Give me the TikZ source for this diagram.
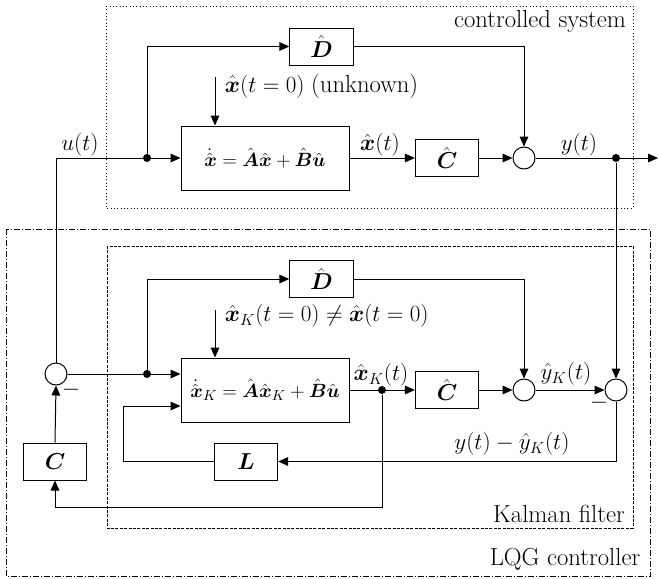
\documentclass[tikz,border=0pt]{standalone}
\usepackage{amsmath}
\usetikzlibrary{arrows.meta}

\tikzset{every picture/.style={line width=0.75pt}}

\begin{document}
\begin{tikzpicture}[x=0.75pt,y=0.75pt,yscale=-1,xscale=1,
  >={Triangle[length=7.5pt,width=6.5pt]},
  every node/.append style={font=\fontsize{16.5}{20}\selectfont},
  txt/.style={font=\fontsize{18.5}{22}\selectfont},
  blk/.style={draw,fill=white,inner sep=0pt,minimum width=47.5pt,minimum height=27.75pt},
  sysblk/.style={draw,inner sep=0pt,minimum width=126pt,minimum height=48pt,font=\fontsize{15.5}{18}\selectfont},
  sumpt/.style={draw,circle,fill=white,inner sep=0pt,minimum size=16.5pt},
  junc/.style={fill,circle,inner sep=0pt,minimum size=6pt}]
	\useasboundingbox (0,0) rectangle (659,578);

	%Frames
	\draw [dash pattern={on 0.75pt off 1.75pt}] (106,6) rectangle (633,208);
	\draw [dash pattern={on 4.5pt off 1.5pt on 0.75pt off 1.5pt}] (6,229) rectangle (650,576.5);
	\draw [dash pattern={on 2.2pt off 1.1pt}] (107,246) rectangle (633,528);

	%Shapes: controlled system
	\node [blk] (Dsys) at (321.5,46.5) {$\hat{\boldsymbol{D}}$};
	\node [sysblk] (plant) at (265,158) {$\dot{\hat{\boldsymbol{x}}} = \hat{\boldsymbol{A}}\hat{\boldsymbol{x}} + \hat{\boldsymbol{B}}\hat{\boldsymbol{u}}$};
	\node [blk] (Csys) at (447,158) {$\hat{\boldsymbol{C}}$};
	\node [sumpt] (sumY) at (524,158) {};
	\node [junc] (uDot) at (147,158) {};
	\node [junc] (yDot) at (616,158) {};
	\coordinate (yOut) at (658,158);
	\coordinate (x0In) at (215,77);

	%Shapes: LQG controller
	\node [sumpt] (sumU) at (56,374) {};
	\node [junc] (kDot) at (147,374) {};
	\node [blk] (DK) at (321.5,279) {$\hat{\boldsymbol{D}}$};
	\node [sysblk] (filt) at (265,390) {$\dot{\hat{\boldsymbol{x}}}_K = \hat{\boldsymbol{A}}\hat{\boldsymbol{x}}_K + \hat{\boldsymbol{B}}\hat{\boldsymbol{u}}$};
	\node [junc] (xDot) at (382,390) {};
	\node [blk] (CK) at (447,390) {$\hat{\boldsymbol{C}}$};
	\node [sumpt] (sumK) at (524,390) {};
	\node [sumpt] (sumE) at (616,390) {};
	\node [blk] (Lgain) at (246,461.5) {$\boldsymbol{L}$};
	\node [blk] (Cgain) at (55,461.5) {$\boldsymbol{C}$};
	\coordinate (x0KIn) at (215,310);
	\coordinate (fbL) at (123,406);

	%Straight Lines: controlled system
	\draw [->] (sumU.north) |- (plant.west);
	\draw [->] (uDot) |- (Dsys.west);
	\draw [->] (Dsys.east) -| (sumY.north);
	\draw [->] (x0In) -- (x0In |- plant.north);
	\draw [->] (plant.east) -- (Csys.west);
	\draw [->] (Csys.east) -- (sumY.west);
	\draw [->] (sumY.east) -- (yOut);
	\draw [->] (yDot) -- (sumE.north);

	%Straight Lines: LQG controller
	\draw [->] (sumU.east) -- (filt.west |- sumU);
	\draw [->] (kDot) |- (DK.west);
	\draw [->] (DK.east) -| (sumK.north);
	\draw [->] (x0KIn) -- (x0KIn |- filt.north);
	\draw [->] (filt.east) -- (CK.west);
	\draw [->] (CK.east) -- (sumK.west);
	\draw [->] (sumK.east) -- (sumE.west);
	\draw [->] (sumE.south) |- (Lgain.east);
	\draw [->] (Lgain.west) -| (fbL) -- (filt.west |- fbL);
	\draw [->] (xDot) -- ++(0,117) -| (Cgain.south);
	\draw [->] (Cgain.north) -- (sumU.south);

	% Text Node
	\node [txt] (sysLbl) at (540,21) {controlled system};
	\node [anchor=west] (x0Lbl) at (220,86) {$\hat{\boldsymbol{x}}(t=0)$ {\fontsize{18.5}{22}\selectfont (unknown)}};
	\node (uLbl) at (80,145) {$u(t)$};
	\node (xLbl) at (380,145) {$\hat{\boldsymbol{x}}(t)$};
	\node (yLbl) at (579,145) {$y(t)$};
	\node [anchor=west] (x0KLbl) at (220,316) {$\hat{\boldsymbol{x}}_K(t=0) \neq \hat{\boldsymbol{x}}(t=0)$};
	\node (xKLbl) at (381,375) {$\hat{\boldsymbol{x}}_K(t)$};
	\node (yKLbl) at (566,374) {$\hat{y}_K(t)$};
	\node (eLbl) at (512,444) {$y(t)-\hat{y}_K(t)$};
	\node (mU) at (71,390) {$-$};
	\node (mE) at (599,403) {$-$};
	\node [txt] (kfLbl) at (559,514) {Kalman filter};
	\node [txt] (lqgLbl) at (565,559) {LQG controller};

\end{tikzpicture}
\end{document}
